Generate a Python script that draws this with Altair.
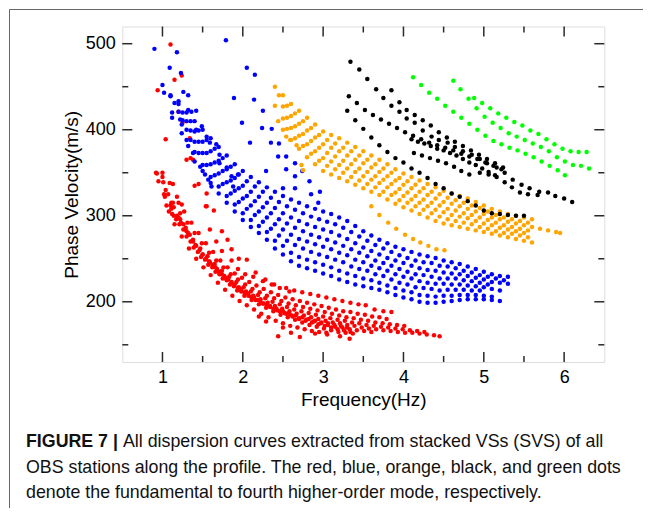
import altair as alt
import pandas as pd

# ---------------- data (frequency Hz, phase velocity m/s) ----------------
RED_CURVES = [
    [(0.92,350),(1.00,350),(1.09,338),(1.18,322),(1.27,305),(1.36,292),(1.45,280),(1.54,268),(1.63,258),(1.72,248),(1.81,240),(1.90,233),(1.99,228),(2.08,223),(2.17,219),(2.26,215),(2.35,211),(2.44,208),(2.53,205),(2.62,203),(2.71,201),(2.80,199),(2.89,197),(2.98,195),(3.07,193),(3.16,191),(3.25,189),(3.34,188),(3.43,186),(3.52,185),(3.61,183),(3.70,182),(3.79,180)],
    [(0.95,340),(1.04,330),(1.13,315),(1.22,303),(1.31,292),(1.40,280),(1.49,268),(1.58,257),(1.67,248),(1.76,240),(1.85,232),(1.94,226),(2.03,220),(2.12,215),(2.21,211),(2.30,207),(2.39,204),(2.48,201),(2.57,198),(2.66,196),(2.75,194),(2.84,192),(2.93,190),(3.02,188),(3.11,186),(3.20,184),(3.29,182),(3.38,181),(3.47,179),(3.56,178),(3.65,176),(3.74,175),(3.83,174),(3.92,173),(4.01,172)],
    [(1.02,325),(1.11,308),(1.20,298),(1.29,286),(1.38,272),(1.47,262),(1.56,253),(1.65,244),(1.74,236),(1.83,229),(1.92,223),(2.01,217),(2.10,212),(2.19,208),(2.28,204),(2.37,200),(2.46,197),(2.55,194),(2.64,191),(2.73,189),(2.82,187),(2.91,185),(3.00,183),(3.09,181),(3.18,179),(3.27,178),(3.36,176),(3.45,175),(3.54,173),(3.63,172),(3.72,171),(3.81,170),(3.90,169),(3.99,168),(4.08,167),(4.17,166),(4.26,165)],
    [(1.05,312),(1.14,300),(1.23,292),(1.32,280),(1.41,266),(1.50,255),(1.59,246),(1.68,238),(1.77,230),(1.86,223),(1.95,217),(2.04,212),(2.13,207),(2.22,203),(2.31,199),(2.40,195),(2.49,192),(2.58,189),(2.67,186),(2.76,184),(2.85,182),(2.94,180),(3.03,178),(3.12,176),(3.21,175),(3.30,173),(3.39,172),(3.48,170),(3.57,169),(3.66,168),(3.75,167),(3.84,166),(3.93,165),(4.02,164),(4.11,164),(4.20,163),(4.29,162),(4.38,161),(4.45,160)],
    [(1.08,305),(1.17,296),(1.26,284),(1.35,270),(1.44,258),(1.53,249),(1.62,240),(1.71,232),(1.80,225),(1.89,218),(1.98,212),(2.07,207),(2.16,202),(2.25,198),(2.34,194),(2.43,190),(2.52,187),(2.61,184),(2.70,181),(2.79,179),(2.88,177),(2.97,175),(3.06,173),(3.15,171),(3.24,170),(3.33,168),(3.42,167),(3.51,166),(3.60,165)],
    [(1.12,302),(1.21,290),(1.30,276),(1.39,263),(1.48,252),(1.57,243),(1.66,235),(1.75,227),(1.84,220),(1.93,213),(2.02,207),(2.11,202),(2.20,197),(2.29,193),(2.38,189),(2.47,185),(2.56,182),(2.65,179),(2.74,176),(2.83,173),(2.92,171),(3.01,169),(3.10,167),(3.19,165),(3.28,164),(3.37,163)],
    [(1.15,290),(1.24,276),(1.33,262),(1.42,250),(1.51,240),(1.60,231),(1.69,222),(1.78,214),(1.87,207),(1.96,201),(2.05,196),(2.14,191),(2.23,186),(2.32,182),(2.41,178),(2.50,175),(2.59,172),(2.68,170),(2.77,168),(2.86,166),(2.95,165),(3.04,164)],
    [(1.38,365),(1.45,337),(1.55,311),(1.64,306),(1.74,282),(1.81,272),(1.86,261),(1.95,250),(2.05,249),(2.16,234),(2.28,226),(2.39,220),(2.54,216),(2.64,213),(2.74,211),(2.84,209),(2.94,207),(3.04,205),(3.14,203),(3.24,201),(3.34,199),(3.44,197),(3.53,196),(3.64,191),(3.75,189),(3.85,188)],
    [(1.59,284),(1.67,270),(1.74,259),(1.86,248),(1.94,238),(2.03,232),(2.13,229),(2.25,224),(2.36,220),(2.46,216),(2.58,212)],
    [(1.00,345),(1.07,325),(1.14,310),(1.22,296),(1.30,282),(1.38,270),(1.46,260),(1.54,250),(1.62,243),(1.70,235),(1.78,228),(1.86,222),(1.94,216),(2.02,211),(2.10,206),(2.18,202),(2.26,198),(2.34,195),(2.42,192),(2.50,189),(2.58,186),(2.66,184),(2.74,182),(2.82,180),(2.90,178),(2.98,176),(3.06,175),(3.14,173),(3.22,172),(3.30,170)],
    [(1.03,322),(1.10,312),(1.18,300),(1.26,290),(1.34,278),(1.42,265),(1.50,255),(1.58,247),(1.66,240),(1.74,232),(1.82,226),(1.90,220),(1.98,215),(2.06,210),(2.14,205),(2.22,200),(2.30,196),(2.38,192),(2.46,189),(2.54,186),(2.62,183),(2.70,180),(2.78,178),(2.86,176),(2.94,174),(3.02,172),(3.10,170),(3.18,168),(3.26,167),(3.34,165)],
]
RED_SCATTER = [(1.10,499),(0.94,446),(1.15,458),(1.24,463),(1.20,421),(1.25,408),(1.34,390),(1.04,389),(1.30,365),(1.35,367),(1.40,335),(1.55,326),(1.54,311),(1.11,315),(1.20,315),(1.24,313),(0.93,349),(1.01,339),(1.13,337),(2.29,177),(2.44,160),(2.60,164),(2.71,159),(3.21,160),(3.33,157),(2.90,163),(3.05,162),(2.20,183),(2.50,170)]

BLUE_CURVES = [
    [(1.10,440),(1.20,430),(1.30,420),(1.40,410),(1.50,400),(1.60,390),(1.70,380),(1.80,370),(1.90,360),(2.00,352),(2.10,345),(2.20,339),(2.30,333),(2.40,328),(2.50,323),(2.60,319),(2.70,315),(2.80,311),(2.90,308),(3.00,305),(3.10,302),(3.20,298),(3.30,294),(3.40,288),(3.50,282),(3.60,277),(3.70,272),(3.80,268),(3.90,264),(4.00,261),(4.10,258),(4.20,255),(4.30,253),(4.40,251),(4.50,248),(4.60,246),(4.70,244),(4.80,241),(4.90,238),(5.00,235),(5.10,232),(5.20,230),(5.30,229)],
    [(1.15,431),(1.25,420),(1.35,410),(1.45,399),(1.55,388),(1.65,378),(1.75,367),(1.85,357),(1.95,348),(2.05,340),(2.15,334),(2.25,328),(2.35,321),(2.45,316),(2.55,311),(2.65,307),(2.75,303),(2.85,299),(2.95,296),(3.05,293),(3.15,290),(3.25,286),(3.35,281),(3.45,276),(3.55,271),(3.65,266),(3.75,262),(3.85,258),(3.95,254),(4.05,251),(4.15,248),(4.25,246),(4.35,245),(4.45,242),(4.55,241),(4.65,239),(4.75,236),(4.85,234),(4.95,231),(5.05,229),(5.15,227),(5.25,225)],
    [(1.20,421),(1.30,410),(1.40,398),(1.50,386),(1.60,375),(1.70,364),(1.80,354),(1.90,344),(2.00,335),(2.10,328),(2.20,322),(2.30,315),(2.40,309),(2.50,303),(2.60,298),(2.70,294),(2.80,290),(2.90,287),(3.00,284),(3.10,281),(3.20,277),(3.30,273),(3.40,268),(3.50,263),(3.60,259),(3.70,255),(3.80,251),(3.90,248),(4.00,245),(4.10,242),(4.20,239),(4.30,237),(4.40,236),(4.50,234),(4.60,233),(4.70,232),(4.80,230),(4.90,228),(5.00,226),(5.10,223),(5.20,222),(5.30,221)],
    [(1.25,411),(1.35,399),(1.45,386),(1.55,373),(1.65,362),(1.75,352),(1.85,341),(1.95,332),(2.05,323),(2.15,317),(2.25,310),(2.35,303),(2.45,296),(2.55,291),(2.65,286),(2.75,282),(2.85,278),(2.95,275),(3.05,272),(3.15,269),(3.25,265),(3.35,261),(3.45,257),(3.55,253),(3.65,248),(3.75,245),(3.85,242),(3.95,238),(4.05,235),(4.15,232),(4.25,231),(4.35,229),(4.45,227),(4.55,227),(4.65,227),(4.75,225),(4.85,224),(4.95,222),(5.05,220)],
    [(1.30,400),(1.40,386),(1.50,373),(1.60,360),(1.70,349),(1.80,339),(1.90,329),(2.00,320),(2.10,312),(2.20,305),(2.30,298),(2.40,290),(2.50,284),(2.60,278),(2.70,273),(2.80,270),(2.90,267),(3.00,264),(3.10,261),(3.20,257),(3.30,254),(3.40,249),(3.50,246),(3.60,242),(3.70,239),(3.80,236),(3.90,232),(4.00,229),(4.10,227),(4.20,224),(4.30,222),(4.40,221),(4.50,221),(4.60,220),(4.70,220),(4.80,219),(4.90,218),(5.00,217),(5.10,215),(5.20,213)],
    [(1.35,388),(1.45,373),(1.55,359),(1.65,347),(1.75,337),(1.85,326),(1.95,316),(2.05,308),(2.15,301),(2.25,293),(2.35,285),(2.45,277),(2.55,271),(2.65,266),(2.75,262),(2.85,258),(2.95,255),(3.05,252),(3.15,249),(3.25,246),(3.35,241),(3.45,238),(3.55,236),(3.65,232),(3.75,230),(3.85,226),(3.95,222),(4.05,220),(4.15,217),(4.25,216),(4.35,215),(4.45,213),(4.55,214),(4.65,214),(4.75,214),(4.85,213),(4.95,213)],
    [(1.40,374),(1.50,359),(1.60,345),(1.70,334),(1.80,323),(1.90,313),(2.00,303),(2.10,295),(2.20,288),(2.30,281),(2.40,271),(2.50,265),(2.60,257),(2.70,252),(2.80,249),(2.90,246),(3.00,243),(3.10,240),(3.20,236),(3.30,233),(3.40,230),(3.50,227),(3.60,225),(3.70,222),(3.80,219),(3.90,216),(4.00,213),(4.10,211),(4.20,208),(4.30,207),(4.40,206),(4.50,207),(4.60,207),(4.70,208),(4.80,208),(4.90,208),(5.00,207),(5.10,206)],
    [(1.50,352),(1.60,338),(1.70,326),(1.80,315),(1.90,305),(2.00,295),(2.10,287),(2.20,280),(2.30,272),(2.40,262),(2.50,255),(2.60,247),(2.70,242),(2.80,239),(2.90,236),(3.00,233),(3.10,230),(3.20,226),(3.30,223),(3.40,220),(3.50,218),(3.60,216),(3.70,214),(3.80,211),(3.90,208),(4.00,205),(4.10,203),(4.20,200),(4.30,199),(4.40,199),(4.50,200),(4.60,201),(4.70,202),(4.80,203),(4.90,203),(5.00,203),(5.10,202),(5.20,201)],
]
BLUE_SCATTER = [(0.90,494),(1.79,504),(1.18,490),(1.09,472),(1.23,466),(1.00,452),(1.02,443),(1.10,439),(1.26,444),(1.32,440),(1.20,433),(1.12,420),(1.12,414),(1.22,412),(1.32,423),(1.36,421),(1.42,422),(1.24,406),(1.24,396),(1.30,388),(1.32,381),(1.42,400),(1.49,404),(1.55,392),(1.59,385),(1.67,383),(1.71,371),(1.38,373),(1.40,363),(1.47,357),(1.53,348),(1.57,342),(1.61,334),(1.71,361),(1.80,356),(1.86,346),(1.88,334),(1.94,348),(1.89,437),(2.05,472),(2.15,464),(2.14,435),(2.25,422),(1.99,408),(2.24,402),(2.36,401),(2.09,385),(2.35,385),(2.45,384),(2.44,369),(2.54,369),(2.29,352),(2.54,354),(2.65,361),(2.65,346),(2.74,352),(2.65,332),(2.83,340),(2.94,315),(2.50,332),(2.85,325),(2.96,328)]

ORANGE_CURVES = [
    [(2.40,450),(2.50,440),(2.60,430),(2.70,422),(2.80,414),(2.90,406),(3.00,398),(3.10,394),(3.20,390),(3.30,385),(3.40,380),(3.50,375),(3.60,370),(3.70,365),(3.80,360),(3.90,354),(4.00,349),(4.10,345),(4.20,341),(4.30,337),(4.40,333),(4.50,329),(4.60,326),(4.70,323),(4.80,320),(4.90,316),(5.00,312),(5.10,308),(5.20,305),(5.30,302),(5.40,300),(5.50,298),(5.60,296)],
    [(2.45,440),(2.55,428),(2.65,419),(2.75,410),(2.85,402),(2.95,394),(3.05,388),(3.15,384),(3.25,379),(3.35,375),(3.45,370),(3.55,365),(3.65,360),(3.75,355),(3.85,350),(3.95,344),(4.05,340),(4.15,336),(4.25,332),(4.35,328),(4.45,325),(4.55,321),(4.65,318),(4.75,315),(4.85,312),(4.95,309),(5.05,305),(5.15,301),(5.25,298),(5.35,296),(5.45,294),(5.55,292)],
    [(2.50,427),(2.60,416),(2.70,407),(2.80,399),(2.90,391),(3.00,383),(3.10,379),(3.20,375),(3.30,370),(3.40,365),(3.50,361),(3.60,356),(3.70,351),(3.80,346),(3.90,341),(4.00,336),(4.10,332),(4.20,328),(4.30,324),(4.40,320),(4.50,316),(4.60,314),(4.70,311),(4.80,308),(4.90,305),(5.00,302),(5.10,298),(5.20,296),(5.30,293),(5.40,291),(5.50,289),(5.60,287),(5.70,285),(5.80,283),(5.90,281),(5.95,280)],
    [(2.55,414),(2.65,404),(2.75,395),(2.85,387),(2.95,379),(3.05,373),(3.15,369),(3.25,364),(3.35,360),(3.45,355),(3.55,351),(3.65,346),(3.75,342),(3.85,337),(3.95,331),(4.05,327),(4.15,323),(4.25,319),(4.35,315),(4.45,312),(4.55,308),(4.65,306),(4.75,303),(4.85,301),(4.95,298),(5.05,295),(5.15,292),(5.25,289),(5.35,287),(5.45,285),(5.55,283)],
    [(2.50,413),(2.60,402),(2.70,393),(2.80,383),(2.90,375),(3.00,367),(3.10,363),(3.20,359),(3.30,355),(3.40,351),(3.50,346),(3.60,342),(3.70,338),(3.80,333),(3.90,327),(4.00,323),(4.10,319),(4.20,315),(4.30,311),(4.40,307),(4.50,304),(4.60,301),(4.70,299),(4.80,297),(4.90,294),(5.00,291),(5.10,289),(5.20,286),(5.30,284),(5.40,282),(5.50,280)],
    [(2.55,401),(2.65,390),(2.75,381),(2.85,372),(2.95,364),(3.05,358),(3.15,354),(3.25,350),(3.35,345),(3.45,341),(3.55,337),(3.65,333),(3.75,328),(3.85,324),(3.95,318),(4.05,315),(4.15,311),(4.25,307),(4.35,303),(4.45,299),(4.55,296),(4.65,294),(4.75,292),(4.85,290),(4.95,287),(5.05,285),(5.15,282),(5.25,280),(5.35,279),(5.45,277),(5.55,275)],
    [(2.40,428),(2.50,400),(2.60,388),(2.70,378),(2.80,368),(2.90,360),(3.00,352),(3.10,348),(3.20,344),(3.30,340),(3.40,336),(3.50,332),(3.60,328),(3.70,324),(3.80,319),(3.90,314),(4.00,310),(4.10,306),(4.20,302),(4.30,298),(4.40,294),(4.50,291),(4.60,289),(4.70,287),(4.80,285),(4.90,283),(5.00,281),(5.10,279),(5.20,277),(5.30,275),(5.40,273),(5.50,271),(5.60,269)],
]
ORANGE_SCATTER = [(2.44,410),(2.54,392),(2.59,388),(2.67,382),(2.73,359),(2.75,353),(3.60,311),(3.70,301),(3.81,292),(3.91,285),(4.02,278),(4.12,273),(4.21,269),(4.31,265),(4.41,261),(4.51,260)]

BLACK_CURVES = [
    [(3.34,479),(3.45,470),(3.55,459),(3.66,447),(3.75,437),(3.85,428),(3.95,421),(4.04,413),(4.14,408),(4.24,399),(4.35,392),(4.44,388),(4.55,385),(4.64,380),(4.74,375),(4.85,371),(4.95,366),(5.04,361),(5.16,356),(5.26,350),(5.36,342),(5.47,336),(5.57,332),(5.69,328),(5.80,327),(5.89,323),(6.00,320),(6.10,316)],
    [(3.32,439),(3.42,431),(3.52,423),(3.62,417),(3.72,412),(3.82,407),(3.92,402),(4.02,397),(4.12,393),(4.22,389),(4.32,385),(4.42,382),(4.52,379),(4.62,376),(4.72,372),(4.82,369),(4.92,366),(5.02,362),(5.12,358),(5.22,354)],
    [(3.30,422),(3.40,411),(3.50,401),(3.60,391),(3.70,382),(3.80,374),(3.90,367),(4.00,362),(4.10,355),(4.20,350),(4.30,344),(4.40,337),(4.50,332),(4.60,326),(4.70,322),(4.80,317),(4.90,312),(5.00,306),(5.10,303),(5.20,302),(5.30,301),(5.40,300),(5.50,300)],
    [(3.85,446),(3.95,432),(4.04,423),(4.14,417),(4.24,411),(4.34,405),(4.44,397),(4.54,391),(4.64,386),(4.74,381),(4.84,376),(4.94,371),(5.04,366),(5.14,361),(5.24,356)],
    [(4.10,389),(4.18,386),(4.26,384),(4.34,381),(4.42,378),(4.50,376),(4.58,373),(4.66,370),(4.74,366),(4.82,362),(4.90,359),(4.98,355),(5.06,351),(5.14,347)],
    [(4.13,373),(4.23,370),(4.33,367),(4.43,364),(4.53,361),(4.63,357),(4.72,352),(4.82,348),(4.95,350),(5.06,348),(5.16,345),(5.26,339),(5.35,333),(5.45,327),(5.55,325),(5.67,324)],
]

GREEN_CURVES = [
    [(4.12,461),(4.22,452),(4.32,443),(4.42,436),(4.52,428),(4.62,421),(4.72,414),(4.82,407),(4.92,400),(5.02,393),(5.12,387),(5.22,383),(5.32,379),(5.42,376),(5.52,372),(5.62,368),(5.72,363),(5.82,358),(5.92,353),(6.01,347)],
    [(4.62,457),(4.71,447),(4.81,436),(4.91,425),(5.01,415),(5.11,408),(5.21,402),(5.31,396),(5.41,392),(5.51,388),(5.61,384),(5.71,380),(5.81,375),(5.91,368),(6.01,363),(6.11,359),(6.21,358),(6.31,355)],
    [(4.88,437),(4.98,431),(5.08,425),(5.18,419),(5.28,414),(5.38,409),(5.48,405),(5.58,399),(5.68,395),(5.78,389),(5.88,383),(5.98,378),(6.08,375),(6.18,374),(6.28,374)],
]

MODE_NAMES = ["fundamental", "1st", "2nd", "3rd", "4th"]
MODE_COLORS = ["#ff0000", "#0000ff", "#ffa500", "#000000", "#00ff00"]

X_DOMAIN = [0.5, 6.5]
Y_DOMAIN = [130, 520]
X_LABELS = [1, 2, 3, 4, 5, 6]
X_MAJOR = [1, 2, 3, 4, 5, 6]
X_MINOR = [1.5, 2.5, 3.5, 4.5, 5.5]
Y_LABELS = [200, 300, 400, 500]
Y_MAJOR = [200, 300, 400, 500]
Y_MINOR = [150, 250, 350, 450]

CAPTION_BOLD = "FIGURE 7 |"
CAPTION_LINES = [
    "All dispersion curves extracted from stacked VSs (SVS) of all",
    "OBS stations along the profile. The red, blue, orange, black, and green dots",
    "denote the fundamental to fourth higher-order mode, respectively.",
]

# ---------------- build table ----------------
groups = [
    (MODE_NAMES[0], RED_CURVES + [RED_SCATTER]),
    (MODE_NAMES[1], BLUE_CURVES + [BLUE_SCATTER]),
    (MODE_NAMES[2], ORANGE_CURVES + [ORANGE_SCATTER]),
    (MODE_NAMES[3], BLACK_CURVES),
    (MODE_NAMES[4], GREEN_CURVES),
]
rows = []
for mode, curves in groups:
    for curve in curves:
        for f, v in curve:
            rows.append({"f": f, "v": v, "mode": mode})
df = pd.DataFrame(rows)

W, H = 482, 335.5
FONT = "Liberation Sans"
CAP_FONT = "Liberation Sans"
CAP_SIZE = 17.8
AX = "#2a2a2a"

xs = alt.Scale(domain=X_DOMAIN, nice=False, zero=False)
ys = alt.Scale(domain=Y_DOMAIN, nice=False, zero=False)

X_AXIS = alt.Axis(
    values=X_LABELS, title="Frequency(Hz)", ticks=False, tickSize=0, domain=False, grid=False,
    labelFont=FONT, labelFontSize=18, labelColor="black", labelPadding=6,
    titleFont=FONT, titleFontSize=19, titleFontWeight="normal", titleColor="black",
    titleX=W / 2, titleY=37, titleAlign="center", titleBaseline="middle")
Y_AXIS = alt.Axis(
    values=Y_LABELS, title="Phase Velocity(m/s)", ticks=False, tickSize=0, domain=False, grid=False,
    labelFont=FONT, labelFontSize=18, labelColor="black", labelPadding=7,
    titleFont=FONT, titleFontSize=19, titleFontWeight="normal", titleColor="black",
    titleX=-51, titleY=H / 2, titleAngle=270, titleAlign="center", titleBaseline="middle")

points = alt.Chart(df).mark_circle(size=20, opacity=1).encode(
    x=alt.X("f:Q", scale=xs, axis=X_AXIS),
    y=alt.Y("v:Q", scale=ys, axis=Y_AXIS),
    color=alt.Color("mode:N", scale=alt.Scale(domain=MODE_NAMES, range=MODE_COLORS), legend=None),
)

def xticks(vals, length):
    d = pd.DataFrame({"f": vals})
    bottom = alt.Chart(d).mark_rule(color=AX, strokeWidth=1.5).encode(
        x=alt.X("f:Q", scale=xs, axis=X_AXIS), y=alt.value(H), y2=alt.value(H - length))
    top = alt.Chart(d).mark_rule(color=AX, strokeWidth=1.5).encode(
        x=alt.X("f:Q", scale=xs, axis=X_AXIS), y=alt.value(0), y2=alt.value(length))
    return [bottom, top]

def yticks(vals, length):
    d = pd.DataFrame({"v": vals})
    left = alt.Chart(d).mark_rule(color=AX, strokeWidth=1.5).encode(
        y=alt.Y("v:Q", scale=ys, axis=Y_AXIS), x=alt.value(0), x2=alt.value(length))
    right = alt.Chart(d).mark_rule(color=AX, strokeWidth=1.5).encode(
        y=alt.Y("v:Q", scale=ys, axis=Y_AXIS), x=alt.value(W - length), x2=alt.value(W))
    return [left, right]

frame = alt.Chart(pd.DataFrame({"k": [0]})).mark_rect(
    fillOpacity=0, stroke="#666666", strokeWidth=1).encode(
    x=alt.value(-112.8), x2=alt.value(900), y=alt.value(-17), y2=alt.value(900))

cap_bold = alt.Chart(pd.DataFrame({"t": [CAPTION_BOLD]})).mark_text(
    align="left", baseline="alphabetic", font=CAP_FONT, fontSize=CAP_SIZE, fontWeight="bold",
    color="#111111").encode(text="t:N", x=alt.value(-96.3), y=alt.value(420.5))
cap_texts = []
cap_pos = [(0.7, 420.5), (-96.3, 446), (-96.3, 471.5)]
for line, (px, py) in zip(CAPTION_LINES, cap_pos):
    cap_texts.append(alt.Chart(pd.DataFrame({"t": [line]})).mark_text(
        align="left", baseline="alphabetic", font=CAP_FONT, fontSize=CAP_SIZE,
        color="#111111").encode(text="t:N", x=alt.value(px), y=alt.value(py)))

layers = [frame, points] + xticks(X_MAJOR, 10) + xticks(X_MINOR, 6) + yticks(Y_MAJOR, 10) + yticks(Y_MINOR, 6) + [cap_bold] + cap_texts

chart = alt.layer(*layers).properties(
    width=W, height=H,
    autosize=alt.AutoSizeParams(type="none"),
    padding={"left": 114.3, "top": 18.5, "right": 38.7, "bottom": 146},
).configure_view(stroke=AX, strokeWidth=1.6).configure(background="white")

chart.save("out.html", embed_options={"renderer": "svg", "actions": False})
